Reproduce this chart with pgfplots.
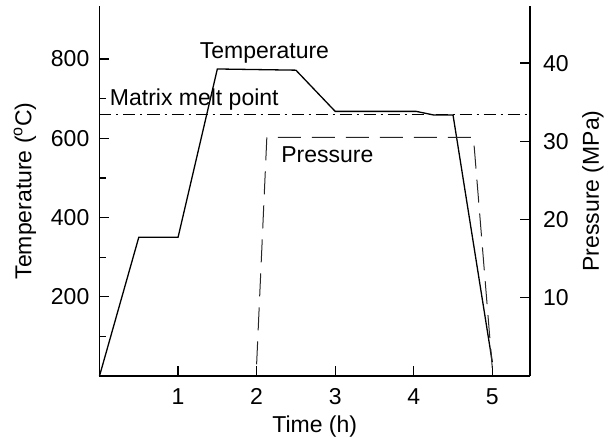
\documentclass[border=0pt]{standalone}
\usepackage{fontspec}
\setmainfont{Liberation Sans}
\usepackage{pgfplots}
\pgfplotsset{compat=1.18}

\pgfplotsset{
  common/.style={
    scale only axis,
    width=430.5pt, height=370pt,
    xmin=0, xmax=5.48,
    ymin=0,
    font=\fontsize{23}{27}\selectfont,
    /pgf/number format/assume math mode=true,
    tick align=inside,
    major tick length=10pt,
    minor tick length=7pt,
    tick style={line width=1.2pt, black},
    axis line style={-, line width=1.8pt},
    clip=false,
  },
}

\begin{document}
\begin{tikzpicture}
\path[use as bounding box] (0,0) rectangle (608pt,438pt);

% temperature axis (left)
\begin{axis}[
  common,
  at={(99.5pt,62pt)}, anchor=south west,
  ymax=934,
  axis x line*=bottom,
  axis y line*=left,
  xtick={1,2,3,4,5},
  ytick={200,400,600,800},
  minor ytick={100,300,500,700},
  xticklabel style={anchor=north, inner sep=0pt, yshift=-12pt},
  yticklabel style={anchor=east, inner sep=0pt, xshift=-10pt},
  xlabel={Time (h)},
  xlabel style={at={(axis description cs:0.5,0)}, anchor=center, yshift=-51pt, inner sep=0pt},
  ylabel={Temperature (\textsuperscript{o}C)},
  ylabel style={at={(axis description cs:0,0.5)}, anchor=center, yshift=74.5pt, inner sep=0pt},
]
\addplot[black, line width=1.3pt] coordinates {
  (0,0) (0.5,350) (1.0,350) (1.5,775) (2.5,772) (3.0,668)
  (4.03,668) (4.25,659) (4.5,659) (5.0,35)
};
% matrix melt point
\addplot[black, line width=0.9pt, dash pattern=on 12pt off 5pt on 2pt off 5pt]
  coordinates {(0,660) (5.48,660)};

\node[anchor=base] at (axis cs:2.1,802) {Temperature};
\node[anchor=base west, inner sep=0pt] at (axis cs:0.13,684) {Matrix melt point};
\node[anchor=base] at (axis cs:2.9,538) {Pressure};
\end{axis}

% pressure axis (right)
\begin{axis}[
  common,
  at={(99.5pt,62pt)}, anchor=south west,
  ymax=47.3,
  hide x axis,
  axis y line*=right,
  ytick={10,20,30,40},
  yticklabel style={anchor=west, inner sep=0pt, xshift=13pt},
  ylabel={Pressure (MPa)},
  ylabel style={at={(axis description cs:1,0.5)}, anchor=center, yshift=-63pt, inner sep=0pt},
]
\addplot[black!85, line width=1pt, dash pattern=on 23pt off 11pt] coordinates {
  (2.0,1.5) (2.13,30.5) (4.76,30.5) (5.0,1.0)
};
\end{axis}
\end{tikzpicture}
\end{document}
